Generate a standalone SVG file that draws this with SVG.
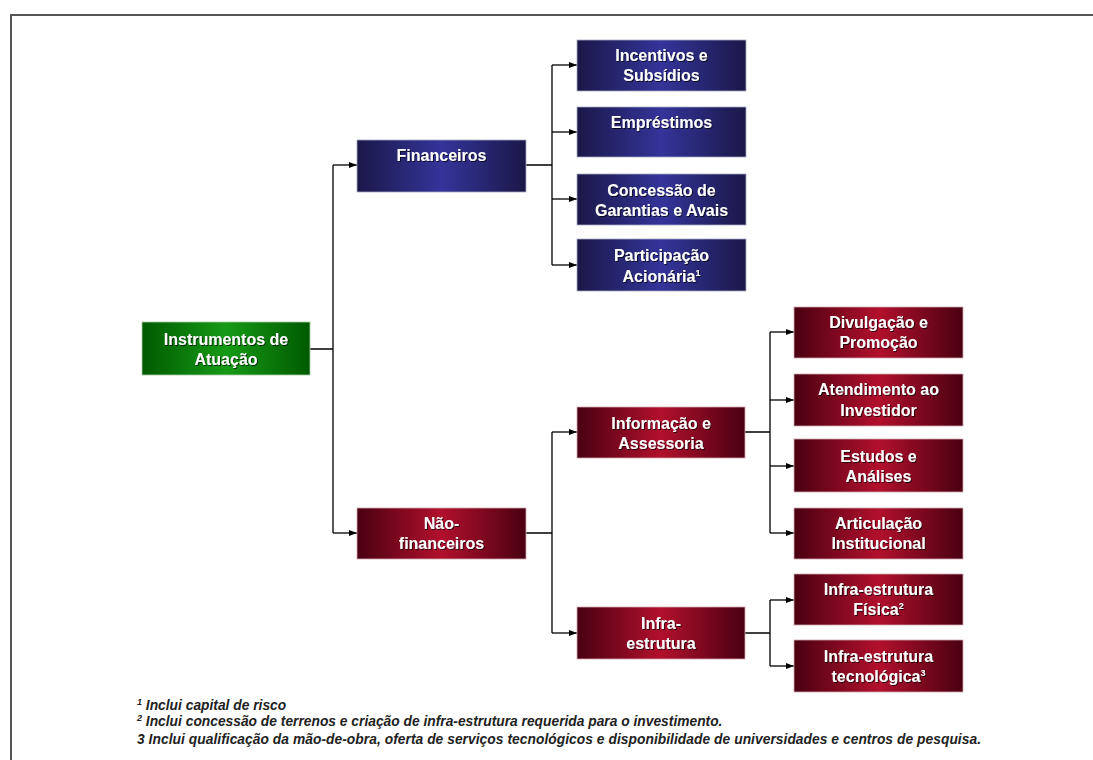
<svg xmlns="http://www.w3.org/2000/svg" width="1093" height="760" viewBox="0 0 1093 760">
<defs>
<linearGradient id="gBlue" x1="0" y1="0" x2="1" y2="0">
<stop offset="0" stop-color="#1a1848"/>
<stop offset="0.5" stop-color="#34349a"/>
<stop offset="1" stop-color="#1a1848"/>
</linearGradient>
<linearGradient id="gRed" x1="0" y1="0" x2="1" y2="0">
<stop offset="0" stop-color="#4a0012"/>
<stop offset="0.5" stop-color="#b2102c"/>
<stop offset="1" stop-color="#4a0012"/>
</linearGradient>
<linearGradient id="gGreen" x1="0" y1="0" x2="1" y2="0">
<stop offset="0" stop-color="#005a00"/>
<stop offset="0.5" stop-color="#169a16"/>
<stop offset="1" stop-color="#005a00"/>
</linearGradient>
<marker id="arr" markerWidth="8" markerHeight="6" refX="8" refY="3" orient="auto" markerUnits="userSpaceOnUse">
<path d="M0,0 L8,3 L0,6 Z" fill="#000"/>
</marker>
<filter id="sh" x="-10%" y="-10%" width="120%" height="130%">
<feDropShadow dx="1" dy="1" stdDeviation="0.4" flood-color="#000" flood-opacity="0.7"/>
</filter>
</defs>
<style>
.b{fill:url(#gBlue);stroke:#a8a8c0;stroke-width:0.8}
.r{fill:url(#gRed);stroke:#d0a8b0;stroke-width:0.8}
.g{fill:url(#gGreen);stroke:#a8c8a8;stroke-width:0.8}
.t{font-family:"Liberation Sans",Arial,sans-serif;font-weight:bold;font-size:16px;fill:#fff;text-anchor:middle;filter:url(#sh)}
.c{fill:none;stroke:#000;stroke-width:1.3}
.a{fill:none;stroke:#000;stroke-width:1.3;marker-end:url(#arr)}
.f{font-family:"Liberation Sans",Arial,sans-serif;font-weight:bold;font-style:italic;font-size:13.8px;fill:#222}
</style>
<rect width="1093" height="760" fill="#fff"/>
<path d="M11,760 V15 H1093" fill="none" stroke="#555" stroke-width="2"/>

<g id="connectors">
<path class="c" d="M310,349 H333 M333,165 V533"/>
<path class="a" d="M333,165 H357"/>
<path class="a" d="M333,533 H357"/>
<path class="c" d="M526,165 H552 M552,65 V265"/>
<path class="a" d="M552,65 H577"/>
<path class="a" d="M552,132 H577"/>
<path class="a" d="M552,199 H577"/>
<path class="a" d="M552,265 H577"/>
<path class="c" d="M526,533 H552 M552,432 V633"/>
<path class="a" d="M552,432 H577"/>
<path class="a" d="M552,633 H577"/>
<path class="c" d="M745,432 H770 M770,332 V533"/>
<path class="a" d="M770,332 H794"/>
<path class="a" d="M770,400 H794"/>
<path class="a" d="M770,466 H794"/>
<path class="a" d="M770,533 H794"/>
<path class="c" d="M745,633 H770 M770,600 V666"/>
<path class="a" d="M770,600 H794"/>
<path class="a" d="M770,666 H794"/>
</g>

<g id="instrumentos">
<rect class="g" x="142" y="322" width="168" height="53"/>
<text class="t" x="226" y="345">Instrumentos de</text>
<text class="t" x="226" y="365">Atuação</text>
</g>

<g id="financeiros">
<rect class="b" x="357" y="140" width="169" height="52"/>
<text class="t" x="441.5" y="161">Financeiros</text>
</g>

<g id="nao-financeiros">
<rect class="r" x="357" y="508" width="169" height="51"/>
<text class="t" x="441.5" y="529">Não-</text>
<text class="t" x="441.5" y="549">financeiros</text>
</g>

<g id="incentivos">
<rect class="b" x="577" y="40" width="169" height="51"/>
<text class="t" x="661.5" y="61">Incentivos e</text>
<text class="t" x="661.5" y="81">Subsídios</text>
</g>

<g id="emprestimos">
<rect class="b" x="577" y="107" width="169" height="50"/>
<text class="t" x="661.5" y="128">Empréstimos</text>
</g>

<g id="concessao">
<rect class="b" x="577" y="174" width="169" height="51"/>
<text class="t" x="661.5" y="196">Concessão de</text>
<text class="t" x="661.5" y="216">Garantias e Avais</text>
</g>

<g id="participacao">
<rect class="b" x="577" y="239" width="169" height="52"/>
<text class="t" x="661.5" y="261">Participação</text>
<text class="t" x="661.5" y="282">Acionária<tspan font-size="9" dy="-6">1</tspan></text>
</g>

<g id="informacao">
<rect class="r" x="577" y="407" width="168" height="51"/>
<text class="t" x="661" y="429">Informação e</text>
<text class="t" x="661" y="449">Assessoria</text>
</g>

<g id="infra">
<rect class="r" x="577" y="607" width="168" height="52"/>
<text class="t" x="661" y="629">Infra-</text>
<text class="t" x="661" y="649">estrutura</text>
</g>

<g id="divulgacao">
<rect class="r" x="794" y="307" width="169" height="51"/>
<text class="t" x="878.5" y="328">Divulgação e</text>
<text class="t" x="878.5" y="348">Promoção</text>
</g>

<g id="atendimento">
<rect class="r" x="794" y="374" width="169" height="52"/>
<text class="t" x="878.5" y="395">Atendimento ao</text>
<text class="t" x="878.5" y="416">Investidor</text>
</g>

<g id="estudos">
<rect class="r" x="794" y="439" width="169" height="53"/>
<text class="t" x="878.5" y="462">Estudos e</text>
<text class="t" x="878.5" y="482">Análises</text>
</g>

<g id="articulacao">
<rect class="r" x="794" y="508" width="169" height="51"/>
<text class="t" x="878.5" y="529">Articulação</text>
<text class="t" x="878.5" y="549">Institucional</text>
</g>

<g id="infra-fisica">
<rect class="r" x="794" y="574" width="169" height="51"/>
<text class="t" x="878.5" y="595">Infra-estrutura</text>
<text class="t" x="878.5" y="615">Física<tspan font-size="9" dy="-6">2</tspan></text>
</g>

<g id="infra-tecnologica">
<rect class="r" x="794" y="640" width="169" height="52"/>
<text class="t" x="878.5" y="662">Infra-estrutura</text>
<text class="t" x="878.5" y="682">tecnológica<tspan font-size="9" dy="-6">3</tspan></text>
</g>

<g id="footnotes">
<text class="f" x="137" y="710"><tspan font-size="9" dy="-5">1</tspan><tspan dy="5"> Inclui capital de risco</tspan></text>
<text class="f" x="137" y="726"><tspan font-size="9" dy="-5">2</tspan><tspan dy="5"> Inclui concessão de terrenos e criação de infra-estrutura requerida para o investimento.</tspan></text>
<text class="f" x="137" y="744" textLength="844" lengthAdjust="spacing">3 Inclui qualificação da mão-de-obra, oferta de serviços tecnológicos e disponibilidade de universidades e centros de pesquisa.</text>
</g>
</svg>
